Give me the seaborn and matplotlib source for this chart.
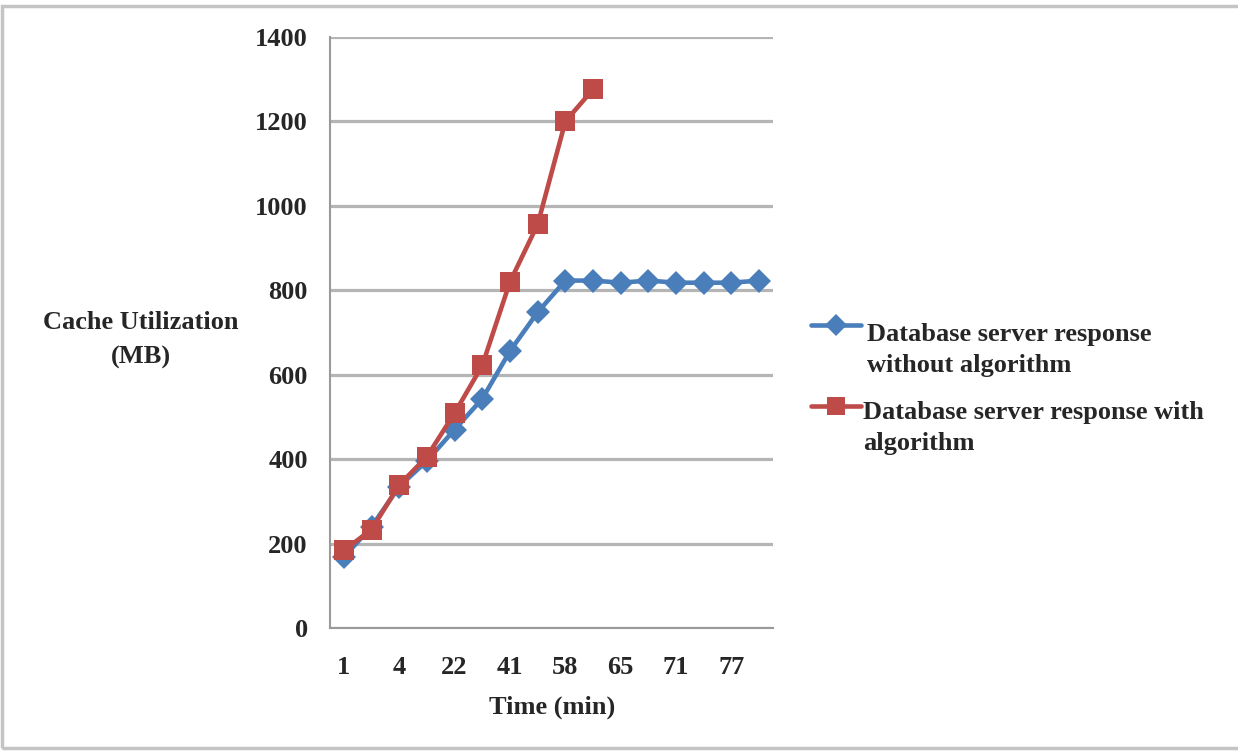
import matplotlib
matplotlib.use("Agg")
import matplotlib.pyplot as plt
from matplotlib.lines import Line2D
from matplotlib.patches import Rectangle
import numpy as np
import pandas as pd
import seaborn as sns

# Time categories (only every other one carries a label on the axis)
tick_labels = ["1", "4", "22", "41", "58", "65", "71", "77"]
n_categories = 16

# Cache utilization (MB) per time category
without_algorithm = [168, 240, 335, 396, 470, 543, 656, 748,
                     823, 823, 818, 823, 818, 818, 818, 823]
with_algorithm = [184, 233, 339, 406, 509, 622, 820, 956, 1200, 1276]

label_without = "Database server response\nwithout algorithm"
label_with = "Database server response with\nalgorithm"

df = pd.concat([
    pd.DataFrame({"pos": np.arange(len(without_algorithm)),
                  "mb": without_algorithm, "series": label_without}),
    pd.DataFrame({"pos": np.arange(len(with_algorithm)),
                  "mb": with_algorithm, "series": label_with}),
])

sns.set_style("white")
plt.rcParams["font.family"] = ["Liberation Serif", "DejaVu Serif"]
plt.rcParams["font.weight"] = "bold"

FS = 19
W, H = 1238, 752
fig = plt.figure(figsize=(W / 100, H / 100), dpi=100)
ax = fig.add_axes([330 / W, (H - 628) / H, 443 / W, (628 - 37) / H])

blue = "#4a7ebb"
red = "#be4b48"
sns.lineplot(data=df, x="pos", y="mb", hue="series", style="series",
             palette={label_without: blue, label_with: red},
             markers={label_without: "D", label_with: "s"},
             dashes=False, linewidth=3.3, markeredgewidth=0,
             ax=ax, legend=False)
for line, ms in zip(ax.lines, [12.5, 14.5]):
    line.set_markersize(ms)

ax.set_xlim(-0.5, n_categories - 0.5)
ax.set_ylim(0, 1400)
ax.set_yticks(np.arange(0, 1401, 200))
ax.yaxis.grid(True, color="#b5b5b5", linewidth=2.3)
ax.xaxis.grid(False)
ax.set_axisbelow(True)

# category boundaries get tick marks; labels sit on every other category
ax.set_xticks(np.arange(-0.5, n_categories, 1.0))
ax.set_xticklabels([])
ax.set_xticks(np.arange(0, n_categories, 2), minor=True)
ax.set_xticklabels(tick_labels, minor=True)
ax.tick_params(axis="x", which="major", direction="out", length=6,
               width=1.5, color="#9a9a9a")
ax.tick_params(axis="x", which="minor", length=0, pad=20, labelsize=FS)
ax.tick_params(axis="y", direction="out", length=6, width=1.5,
               color="#9a9a9a", labelsize=FS, pad=10)

for side in ["top", "right"]:
    ax.spines[side].set_visible(False)
for side in ["left", "bottom"]:
    ax.spines[side].set_color("#9a9a9a")
    ax.spines[side].set_linewidth(1.5)

ax.set_xlabel("")
ax.set_ylabel("")
fig.text(552 / W, 1 - 707 / H, "Time (min)", ha="center", va="center",
         fontsize=FS, fontweight="bold")
fig.text(141 / W, 1 - 340 / H, "Cache Utilization\n(MB)", ha="center",
         va="center", fontsize=FS, fontweight="bold", linespacing=1.68)

# legend: handle sits level with the first line of each label;
# text is anchored on the baseline of its last line
legend_rows = [
    (label_without, blue, "D", 11, 325, 867, 372),
    (label_with, red, "s", 13.5, 406, 863, 450),
]
for text, color, marker, ms, y_handle, x_text, y_base in legend_rows:
    yh = 1 - y_handle / H
    fig.add_artist(Line2D([811 / W, 861 / W], [yh, yh], color=color,
                          lw=3.3, transform=fig.transFigure))
    fig.add_artist(Line2D([836 / W], [yh], color=color, marker=marker,
                          markersize=ms, markeredgewidth=0,
                          transform=fig.transFigure))
    fig.text(x_text / W, 1 - y_base / H, text, ha="left", va="baseline",
             fontsize=FS, fontweight="bold", linespacing=1.42)

# outer chart frame
fig.patches.append(Rectangle((2 / W, 4 / H), 1.2, 1 - 10 / H,
                             transform=fig.transFigure, fill=False,
                             edgecolor="#c4c4c4", linewidth=2.5))

fig.savefig("out.png", dpi=100)
